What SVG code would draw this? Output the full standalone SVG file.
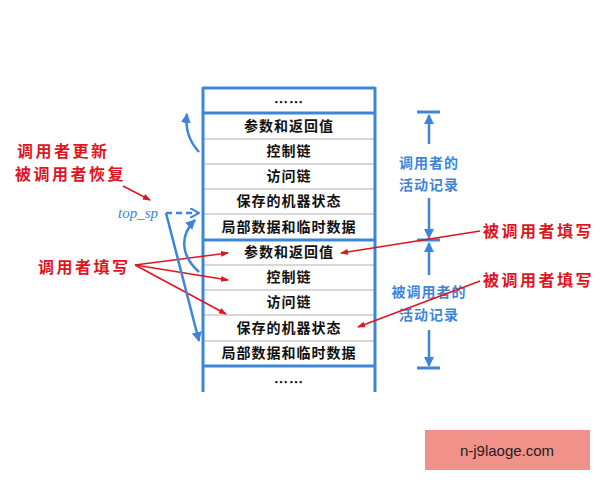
<svg xmlns="http://www.w3.org/2000/svg" width="600" height="480" viewBox="0 0 600 480">
<defs>
<marker id="ra" markerWidth="8" markerHeight="8" refX="7" refY="4" orient="auto" markerUnits="userSpaceOnUse"><path d="M0,1 L8,4 L0,7 Z" fill="#e0141e"/></marker>
<marker id="ba" markerWidth="10" markerHeight="10" refX="9" refY="5" orient="auto" markerUnits="userSpaceOnUse"><path d="M0,0 L10,5 L0,10 Z" fill="#3d85d8"/></marker>
<marker id="bo" markerWidth="10" markerHeight="10" refX="9" refY="5" orient="auto" markerUnits="userSpaceOnUse"><path d="M0,0 L9,5 L0,10" fill="none" stroke="#3d85d8" stroke-width="2"/></marker>
</defs>
<style>
.c{font-family:"Noto Sans CJK SC","Liberation Serif",serif;font-weight:bold;font-size:14px;fill:#111;text-anchor:middle;letter-spacing:1px}
.r{font-family:"Noto Sans CJK SC",sans-serif;font-weight:bold;font-size:16px;fill:#e0141e;letter-spacing:2.5px}
.b{font-family:"Noto Sans CJK SC",sans-serif;font-weight:bold;font-size:14px;fill:#3d85d8;text-anchor:middle;letter-spacing:1px}
.thin{stroke:#b0b0b0;stroke-width:1}
.thick{stroke:#3d85d8;stroke-width:3}
.rl{stroke:#e0141e;stroke-width:1.5;fill:none;marker-end:url(#ra)}
.bl{stroke:#3d85d8;stroke-width:2.5;fill:none}
</style>
<rect width="600" height="480" fill="#fff"/>
<g id="stack">
<line class="thin" x1="203" y1="139" x2="375" y2="139"/>
<line class="thin" x1="203" y1="164" x2="375" y2="164"/>
<line class="thin" x1="203" y1="189" x2="375" y2="189"/>
<line class="thin" x1="203" y1="214" x2="375" y2="214"/>
<line class="thin" x1="203" y1="265" x2="375" y2="265"/>
<line class="thin" x1="203" y1="290" x2="375" y2="290"/>
<line class="thin" x1="203" y1="315" x2="375" y2="315"/>
<line class="thin" x1="203" y1="341" x2="375" y2="341"/>
<line class="thick" x1="203" y1="88" x2="375" y2="88"/>
<line class="thick" x1="203" y1="113" x2="375" y2="113"/>
<line class="thick" x1="203" y1="240" x2="375" y2="240"/>
<line class="thick" x1="203" y1="366" x2="375" y2="366"/>
<line class="thick" x1="203" y1="87" x2="203" y2="392"/>
<line class="thick" x1="375" y1="87" x2="375" y2="392"/>
<text class="c" x="289" y="107">……</text>
<text class="c" x="289" y="131">参数和返回值</text>
<text class="c" x="289" y="156">控制链</text>
<text class="c" x="289" y="181">访问链</text>
<text class="c" x="289" y="206">保存的机器状态</text>
<text class="c" x="289" y="232">局部数据和临时数据</text>
<text class="c" x="289" y="257">参数和返回值</text>
<text class="c" x="289" y="282">控制链</text>
<text class="c" x="289" y="307">访问链</text>
<text class="c" x="289" y="333">保存的机器状态</text>
<text class="c" x="289" y="358">局部数据和临时数据</text>
<text class="c" x="289" y="387">……</text>
</g>
<g id="dims">
<line class="thick" x1="417" y1="112" x2="440" y2="112"/>
<line class="thick" x1="417" y1="240" x2="440" y2="240"/>
<line class="thick" x1="417" y1="368" x2="440" y2="368"/>
<line class="bl" x1="429" y1="144" x2="429" y2="115" marker-end="url(#ba)"/>
<line class="bl" x1="429" y1="198" x2="429" y2="238" marker-end="url(#ba)"/>
<line class="bl" x1="429" y1="275" x2="429" y2="243" marker-end="url(#ba)"/>
<line class="bl" x1="429" y1="330" x2="429" y2="366" marker-end="url(#ba)"/>
<text class="b" x="429" y="168">调用者的</text>
<text class="b" x="429" y="190">活动记录</text>
<text class="b" x="429" y="297">被调用者的</text>
<text class="b" x="429" y="320">活动记录</text>
</g>
<g id="labels">
<text class="r" x="17" y="157">调用者更新</text>
<text class="r" x="15" y="180">被调用者恢复</text>
<text class="r" x="38" y="273">调用者填写</text>
<text class="r" x="483" y="237">被调用者填写</text>
<text class="r" x="483" y="286">被调用者填写</text>
<text x="138" y="218" style="font-family:'Liberation Serif',serif;font-style:italic;font-size:15px;fill:#3d85d8" text-anchor="middle">top_sp</text>
</g>
<g id="connectors">
<line class="rl" x1="123" y1="186" x2="150" y2="200"/>
<line class="rl" x1="135" y1="265" x2="228" y2="253"/>
<line class="rl" x1="135" y1="265" x2="228" y2="280"/>
<line class="rl" x1="135" y1="265" x2="226" y2="314"/>
<line class="rl" x1="480" y1="231" x2="341" y2="253"/>
<line class="rl" x1="480" y1="281" x2="358" y2="327"/>
<line class="bl" x1="166" y1="213" x2="199" y2="213" stroke-dasharray="6,4" marker-end="url(#bo)"/>
<line class="bl" x1="166" y1="213" x2="199" y2="341" marker-end="url(#ba)"/>
<path class="bl" d="M199,272 C180,255 180,235 195,220" marker-end="url(#ba)"/>
<path class="bl" d="M199,152 C188,140 185,128 187,114" marker-end="url(#ba)"/>
</g>
<g id="watermark">
<rect x="425" y="430" width="165" height="40" fill="#f0918a"/>
<text x="507" y="456" text-anchor="middle" style="font-family:'Liberation Sans',sans-serif;font-size:15px;fill:#222">n-j9laoge.com</text>
</g>
</svg>
